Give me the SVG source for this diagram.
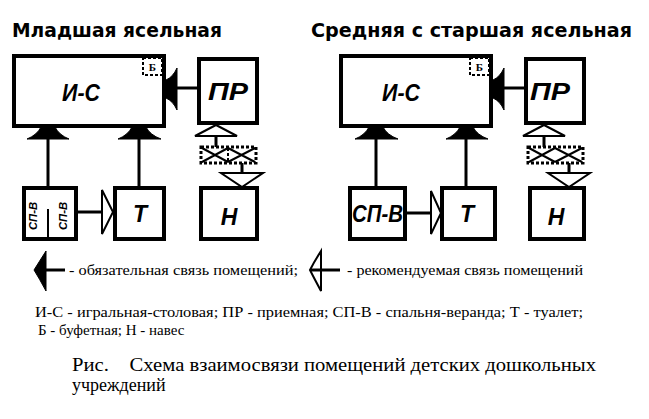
<svg xmlns="http://www.w3.org/2000/svg" width="649" height="419" viewBox="0 0 649 419">
<style>
.bg{fill:#fff}
.box{fill:#fff;stroke:#000;stroke-width:4}
.dash{fill:#fff;stroke:#000;stroke-width:2;stroke-dasharray:3 2}
.xl{stroke:#000;stroke-width:2;fill:none}
.ln{stroke:#000;stroke-width:3;fill:none}
.solid{fill:#000;stroke:#000;stroke-width:1}
.open{fill:#fff;stroke:#000;stroke-width:2;stroke-linejoin:miter}
.title{font-family:"DejaVu Sans",sans-serif;font-weight:bold;font-size:19px;fill:#000}
.lbl{font-family:"Liberation Sans",Arial,sans-serif;font-weight:bold;font-style:italic;font-size:23px;fill:#000;text-anchor:middle}
.sm{font-family:"Liberation Sans",Arial,sans-serif;font-weight:bold;font-style:italic;font-size:11px;fill:#000;text-anchor:middle}
.b{font-family:'Liberation Serif','DejaVu Serif',serif;font-weight:bold;font-size:11px;fill:#000;text-anchor:middle}
.txt{font-family:'Liberation Serif','DejaVu Serif',serif;font-size:15px;fill:#000;white-space:pre}
.cap{font-family:'Liberation Serif','DejaVu Serif',serif;font-size:18px;fill:#000;white-space:pre}
</style>
<rect class="bg" x="0" y="0" width="649" height="419"/>

<text class="title" x="12" y="37" textLength="210" lengthAdjust="spacingAndGlyphs">Младшая ясельная</text>
<text class="title" x="311" y="37" textLength="321" lengthAdjust="spacingAndGlyphs">Средняя с старшая ясельная</text>

<g id="connectors">
  <!-- left panel -->
  <line class="ln" x1="176" y1="88" x2="199" y2="88"/>
  <path class="solid" d="M177,68 Q173,77 166,80 L166,98 Q173,101 177,110 Z"/>
  <line class="ln" x1="48" y1="138" x2="48" y2="188"/>
  <path class="solid" d="M27,139 Q37,135 41,127 L55,127 Q59,135 69,139 Z"/>
  <line class="ln" x1="139" y1="138" x2="139" y2="188"/>
  <path class="solid" d="M118,139 Q128,135 132,127 L146,127 Q150,135 161,139 Z"/>
  <line class="ln" x1="76" y1="212" x2="113" y2="212"/>
  <path class="open" d="M102,190 L102,234 L113,212 Z"/>
  <line class="ln" x1="216" y1="136" x2="216" y2="147"/>
  <path class="open" d="M195,136 L237,136 L216,125 Z"/>
  <line class="ln" x1="242" y1="163" x2="242" y2="188"/>
  <path class="open" d="M221,173 L263,173 L242,187 Z"/>
  <g id="link-left">
    <rect class="dash" x="201" y="147" width="55" height="16" style="stroke-width:3"/>
    <path class="xl" d="M202,148 L228,162 M228,148 L202,162 M228,148 L255,162 M255,148 L228,162"/>
    <line class="xl" x1="228" y1="148" x2="228" y2="162" stroke-dasharray="3 2"/>
  </g>
  <!-- right panel -->
  <line class="ln" x1="503" y1="88" x2="526" y2="88"/>
  <path class="solid" d="M504,68 Q500,77 493,80 L493,98 Q500,101 504,110 Z"/>
  <line class="ln" x1="376" y1="138" x2="376" y2="188"/>
  <path class="solid" d="M355,139 Q365,135 369,127 L383,127 Q387,135 398,139 Z"/>
  <line class="ln" x1="466" y1="138" x2="466" y2="188"/>
  <path class="solid" d="M446,139 Q456,135 460,127 L473,127 Q477,135 488,139 Z"/>
  <line class="ln" x1="404" y1="213" x2="441" y2="213"/>
  <path class="open" d="M431,191 L431,234 L441,213 Z"/>
  <line class="ln" x1="544" y1="136" x2="544" y2="147"/>
  <path class="open" d="M523,136 L565,136 L544,125 Z"/>
  <line class="ln" x1="569" y1="163" x2="569" y2="188"/>
  <path class="open" d="M548,173 L590,173 L569,187 Z"/>
  <g id="link-right">
    <rect class="dash" x="528" y="147" width="55" height="16" style="stroke-width:3"/>
    <path class="xl" d="M529,148 L555,162 M555,148 L529,162 M555,148 L582,162 M582,148 L555,162"/>
  </g>
</g>

<g id="is-left">
  <rect class="box" x="14" y="56" width="150" height="70"/>
  <text class="lbl" x="81" y="101" textLength="38" lengthAdjust="spacingAndGlyphs">И-С</text>
</g>
<g id="b-left">
  <rect class="dash" x="143" y="58" width="19" height="17"/>
  <text class="b" x="152.5" y="71">Б</text>
</g>
<g id="pr-left">
  <rect class="box" x="199" y="59" width="58" height="64"/>
  <text class="lbl" x="228" y="100" textLength="40" lengthAdjust="spacingAndGlyphs">ПР</text>
</g>
<g id="spv-left">
  <rect class="box" x="24" y="188" width="52" height="51"/>
  <line x1="48" y1="209" x2="48" y2="239" stroke="#000" stroke-width="2"/>
  <text class="sm" transform="translate(37,216) rotate(-90)" x="0" y="0" textLength="28" lengthAdjust="spacingAndGlyphs">СП-В</text>
  <text class="sm" transform="translate(67,216) rotate(-90)" x="0" y="0" textLength="28" lengthAdjust="spacingAndGlyphs">СП-В</text>
</g>
<g id="t-left">
  <rect class="box" x="115" y="188" width="49" height="51"/>
  <text class="lbl" x="140" y="222">Т</text>
</g>
<g id="n-left">
  <rect class="box" x="201" y="188" width="56" height="51"/>
  <text class="lbl" x="229" y="225">Н</text>
</g>

<g id="is-right">
  <rect class="box" x="341" y="56" width="150" height="70"/>
  <text class="lbl" x="401" y="101" textLength="38" lengthAdjust="spacingAndGlyphs">И-С</text>
</g>
<g id="b-right">
  <rect class="dash" x="470" y="58" width="19" height="17"/>
  <text class="b" x="479.5" y="71">Б</text>
</g>
<g id="pr-right">
  <rect class="box" x="526" y="59" width="58" height="64"/>
  <text class="lbl" x="550" y="100" textLength="40" lengthAdjust="spacingAndGlyphs">ПР</text>
</g>
<g id="spv-right">
  <rect class="box" x="350" y="188" width="55" height="51"/>
  <text class="lbl" x="377.5" y="222" textLength="51" lengthAdjust="spacingAndGlyphs">СП-В</text>
</g>
<g id="t-right">
  <rect class="box" x="442" y="188" width="53" height="51"/>
  <text class="lbl" x="467" y="222">Т</text>
</g>
<g id="n-right">
  <rect class="box" x="530" y="188" width="54" height="51"/>
  <text class="lbl" x="556" y="225">Н</text>
</g>

<g id="legend">
  <path class="solid" d="M46,251 Q39,262 34,270 Q39,278 46,291 Z"/>
  <line class="ln" x1="40" y1="270" x2="65" y2="270"/>
  <text class="txt" x="69" y="275" textLength="229" lengthAdjust="spacingAndGlyphs">- обязательная связь помещений;</text>
  <path d="M321,251 Q314,262 310,270 Q314,278 321,291 Z" fill="none" stroke="#000" stroke-width="2"/>
  <line class="ln" x1="310" y1="270" x2="340" y2="270"/>
  <text class="txt" x="347" y="275" textLength="236" lengthAdjust="spacingAndGlyphs">- рекомендуемая связь помещений</text>
</g>

<g id="notes">
  <text class="txt" x="35" y="317" textLength="548" lengthAdjust="spacingAndGlyphs">И-С - игральная-столовая; ПР - приемная; СП-В - спальня-веранда; Т - туалет;</text>
  <text class="txt" x="38" y="335">Б - буфетная; Н - навес</text>
  <text class="cap" x="72" y="371" textLength="524" lengthAdjust="spacingAndGlyphs" xml:space="preserve">Рис.    Схема взаимосвязи помещений детских дошкольных</text>
  <text class="cap" x="72" y="391">учреждений</text>
</g>
</svg>
